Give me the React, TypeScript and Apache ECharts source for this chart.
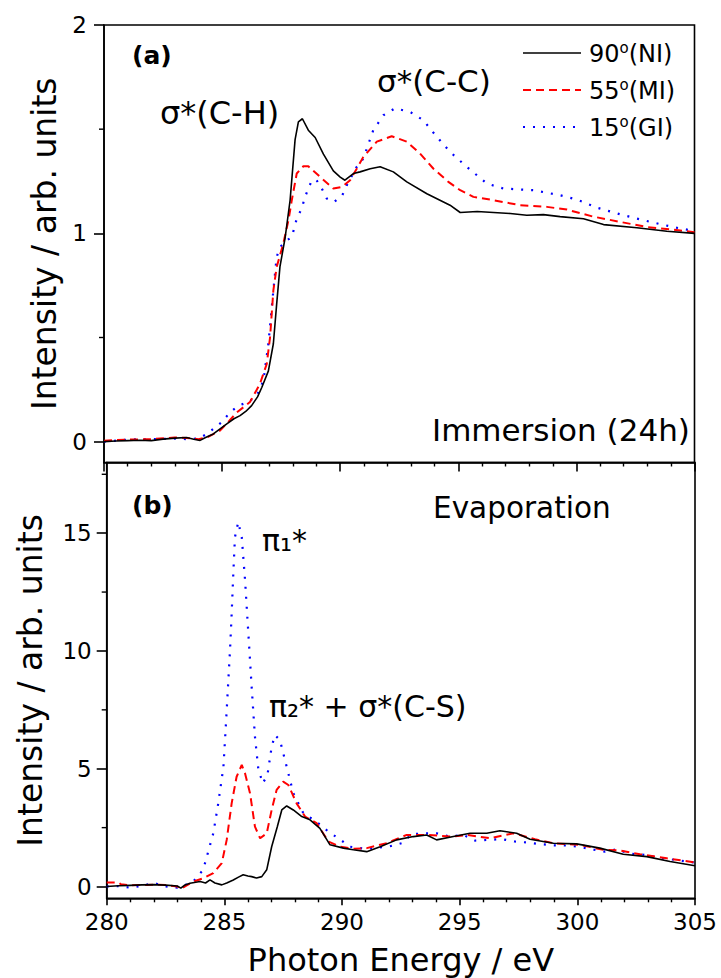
import React, { useEffect, useRef } from "react";
import * as echarts from "echarts";

// ---------- Panel (a): Immersion (24h) ----------
const topE_NI = [280, 280.5, 281, 281.5, 282, 282.5, 283, 283.5, 283.8, 284.07, 284.3, 284.63, 284.9, 285.2, 285.5, 285.76, 286.0, 286.25, 286.5, 286.68, 286.96, 287.17, 287.31, 287.45, 287.67, 287.88, 288.09, 288.23, 288.4, 288.65, 288.94, 289.29, 289.71, 290.0, 290.2, 290.56, 290.84, 291.27, 291.69, 292.25, 292.82, 293.67, 294.65, 295.08, 295.8, 296.49, 297.2, 297.9, 298.6, 299.31, 300.3, 301.15, 302.56, 303.83, 305];
const topI_NI = [0.0, 0.003, 0.005, 0.007, 0.005, 0.012, 0.017, 0.02, 0.012, 0.006, 0.02, 0.037, 0.06, 0.085, 0.11, 0.125, 0.145, 0.173, 0.215, 0.26, 0.34, 0.47, 0.66, 0.84, 0.98, 1.16, 1.45, 1.535, 1.55, 1.495, 1.46, 1.38, 1.3, 1.27, 1.255, 1.287, 1.295, 1.31, 1.32, 1.295, 1.247, 1.19, 1.135, 1.1, 1.105, 1.1, 1.095, 1.087, 1.09, 1.08, 1.07, 1.042, 1.027, 1.01, 1.0];

const topE_MI = [280, 281, 282, 283, 283.5, 284.0, 284.35, 284.91, 285.3, 285.62, 286.18, 286.6, 286.89, 287.03, 287.17, 287.31, 287.59, 287.81, 287.95, 288.16, 288.44, 288.65, 289.15, 289.71, 290.07, 290.42, 290.7, 290.98, 291.55, 292.18, 292.82, 293.38, 293.95, 294.58, 295.08, 295.64, 296.49, 297.62, 298.75, 299.6, 300.72, 301.85, 302.99, 304.1, 305];
const topI_MI = [0.005, 0.01, 0.012, 0.02, 0.018, 0.012, 0.02, 0.053, 0.1, 0.14, 0.19, 0.277, 0.373, 0.5, 0.726, 0.838, 0.95, 1.063, 1.159, 1.287, 1.322, 1.322, 1.271, 1.215, 1.223, 1.255, 1.31, 1.367, 1.44, 1.466, 1.44, 1.383, 1.31, 1.247, 1.207, 1.175, 1.159, 1.135, 1.127, 1.114, 1.08, 1.055, 1.03, 1.018, 1.005];

const topE_GI = [280, 281, 282, 283, 283.5, 284.0, 284.35, 284.98, 285.33, 285.69, 286.11, 286.47, 286.75, 286.96, 287.17, 287.31, 287.45, 287.74, 287.95, 288.16, 288.37, 288.51, 288.8, 289.0, 289.22, 289.43, 289.74, 290.09, 290.28, 290.7, 290.98, 291.4, 291.83, 292.32, 292.96, 293.52, 294.09, 294.65, 295.36, 296.21, 296.91, 298.18, 299.31, 300.02, 300.87, 301.99, 303.13, 304.1, 305];
const topI_GI = [0.0, 0.01, 0.012, 0.015, 0.012, 0.015, 0.037, 0.093, 0.14, 0.173, 0.19, 0.221, 0.293, 0.47, 0.726, 0.886, 0.934, 0.966, 0.982, 1.07, 1.119, 1.175, 1.255, 1.255, 1.215, 1.167, 1.15, 1.183, 1.231, 1.319, 1.359, 1.495, 1.567, 1.6, 1.583, 1.543, 1.463, 1.391, 1.319, 1.239, 1.215, 1.207, 1.183, 1.162, 1.123, 1.087, 1.055, 1.03, 1.011];

// ---------- Panel (b): Evaporation ----------
const botE_NI = [280, 280.5, 281, 281.5, 282, 282.5, 283.0, 283.15, 283.3, 283.54, 283.97, 284.2, 284.39, 284.6, 284.89, 285.1, 285.38, 285.6, 285.8, 286.0, 286.16, 286.37, 286.59, 286.8, 287.01, 287.25, 287.44, 287.65, 287.93, 288.29, 288.64, 289.06, 289.49, 290.06, 290.48, 291.05, 291.62, 292.32, 293.03, 293.6, 294.02, 294.73, 295.44, 296.15, 296.71, 297.42, 297.99, 298.98, 299.97, 300.96, 301.95, 302.95, 303.94, 305];
const botI_NI = [0.0, 0.03, 0.05, 0.07, 0.08, 0.06, 0.02, -0.07, 0.05, 0.14, 0.21, 0.15, 0.28, 0.15, 0.07, 0.15, 0.28, 0.4, 0.5, 0.45, 0.42, 0.36, 0.42, 0.71, 1.69, 2.54, 3.25, 3.42, 3.25, 2.97, 2.83, 2.47, 1.77, 1.63, 1.56, 1.48, 1.69, 1.98, 2.12, 2.19, 1.98, 2.12, 2.26, 2.26, 2.37, 2.26, 2.01, 1.84, 1.81, 1.63, 1.37, 1.27, 1.06, 0.88];

const botE_MI = [280, 280.5, 280.6, 281, 282, 282.5, 283.0, 283.15, 283.4, 283.68, 284.1, 284.53, 284.89, 285.1, 285.31, 285.52, 285.74, 285.88, 286.09, 286.3, 286.52, 286.8, 287.01, 287.22, 287.5, 287.72, 288.07, 288.43, 288.92, 289.42, 289.91, 290.5, 291.05, 291.9, 292.75, 293.6, 294.73, 295.3, 296.29, 297.28, 298.2, 298.98, 300.11, 301.1, 301.8, 302.66, 303.8, 305];
const botI_MI = [0.17, 0.17, 0.1, 0.05, 0.08, 0.06, 0.0, -0.1, 0.05, 0.21, 0.35, 0.57, 0.99, 1.98, 3.53, 4.66, 5.16, 4.8, 3.96, 2.54, 2.05, 2.26, 3.25, 4.1, 4.45, 4.31, 3.53, 2.97, 2.69, 1.91, 1.69, 1.6, 1.63, 1.84, 2.19, 2.19, 2.12, 2.19, 2.05, 2.26, 2.01, 1.84, 1.77, 1.56, 1.53, 1.37, 1.2, 1.02];

const botE_GI = [280, 280.5, 281, 281.5, 282, 282.5, 283, 283.3, 283.68, 284.1, 284.53, 284.74, 284.96, 285.06, 285.17, 285.24, 285.31, 285.38, 285.45, 285.59, 285.74, 285.88, 286.02, 286.16, 286.3, 286.44, 286.63, 286.83, 287.01, 287.15, 287.36, 287.65, 287.93, 288.36, 288.92, 289.42, 289.84, 290.34, 291.0, 291.47, 291.97, 292.54, 292.96, 293.53, 294.02, 294.6, 295.16, 295.65, 296.22, 296.79, 297.35, 297.85, 298.41, 298.98, 299.55, 300.04, 300.61, 301.18, 301.67, 302.23, 302.8, 303.37, 304.43, 305];
const botI_GI = [0.0, 0.02, -0.05, 0.03, 0.15, 0.0, -0.05, 0.05, 0.21, 0.71, 2.26, 3.53, 5.08, 6.78, 8.76, 10.03, 11.58, 13.28, 14.83, 15.47, 14.83, 13.0, 10.74, 8.47, 6.36, 5.02, 4.38, 4.73, 5.93, 6.43, 6.22, 5.08, 3.96, 3.11, 2.75, 2.33, 2.05, 1.69, 1.6, 1.65, 1.69, 1.84, 2.22, 2.26, 2.26, 2.12, 2.19, 1.95, 1.98, 2.01, 1.91, 1.87, 1.8, 1.75, 1.74, 1.69, 1.58, 1.48, 1.58, 1.39, 1.35, 1.24, 1.09, 1.02];

// ---------- Axes / labels ----------
const xMin = 280;
const xMax = 305;
const xStep = 5;
const topYRange = [-0.1, 2];
const topYMajor = [0, 1, 2];
const topYMinor = [0.5, 1.5];
const botYRange = [-0.5, 18];
const botYMajor = [0, 5, 10, 15];
const botYMinor = [2.5, 7.5, 12.5, 17.5];
const legendNames = ["90", "55", "15"];
const legendTags = ["(NI)", "(MI)", "(GI)"];

const FONT = "DejaVu Sans, Verdana, sans-serif";

const zip = (xs: number[], ys: number[]) => xs.map((x, i) => [x, ys[i]]);

const styles = [
  { color: "#000000", width: 1.6, type: "solid" as any },
  { color: "#ff0000", width: 2, type: [8, 5] as any },
  { color: "#0000ff", width: 2.2, type: [2, 8] as any },
];

const GRID_A = { left: 104, top: 25, width: 590.5, height: 437.5 };
const GRID_B = { left: 106.7, top: 462.5, width: 588.3, height: 435.8 };

export default function App() {
  const ref = useRef<HTMLDivElement>(null);
  useEffect(() => {
    if (!ref.current) return;
    const chart = echarts.init(ref.current, undefined, { renderer: "svg" });

    const xAxisBase = (grid: number, showLabels: boolean) => ({
      type: "value",
      gridIndex: grid,
      position: "bottom",
      min: xMin,
      max: xMax,
      interval: xStep,
      axisLine: { show: true, onZero: false, lineStyle: { color: "#000", width: 1.6 } },
      axisTick: { show: true, inside: false, length: grid === 0 ? 9 : 7, lineStyle: { color: "#000", width: 1.6 } },
      minorTick: { show: true, splitNumber: 5, length: 4, lineStyle: { color: "#000", width: 1.4 } },
      splitLine: { show: false },
      axisLabel: {
        show: showLabels,
        fontSize: 23,
        fontFamily: FONT,
        color: "#000",
        margin: 12,
      },
    });

    const yMain = (grid: number, range: number[], major: number[], name: string, gap: number, margin: number) => ({
      type: "value",
      gridIndex: grid,
      position: "left",
      min: range[0],
      max: range[1],
      name,
      nameLocation: "middle",
      nameGap: gap,
      nameTextStyle: { fontSize: 33, fontFamily: FONT, color: "#000" },
      axisLine: { show: true, onZero: false, lineStyle: { color: "#000", width: 1.6 } },
      axisTick: { show: true, inside: false, length: 10, customValues: major, lineStyle: { color: "#000", width: 1.6 } },
      axisLabel: { show: true, customValues: major, fontSize: 23, fontFamily: FONT, color: "#000", margin: margin },
      splitLine: { show: false },
    });

    const topSeries = [zip(topE_NI, topI_NI), zip(topE_MI, topI_MI), zip(topE_GI, topI_GI)];
    const botSeries = [zip(botE_NI, botI_NI), zip(botE_MI, botI_MI), zip(botE_GI, botI_GI)];

    const mkSeries = (data: number[][], k: number, panel: number) => ({
      type: "line",
      name: legendNames[k] + legendTags[k] + (panel === 0 ? " a" : " b"),
      xAxisIndex: panel,
      yAxisIndex: panel,
      data,
      showSymbol: false,
      symbol: "none",
      smooth: false,
      lineStyle: { color: styles[k].color, width: styles[k].width, type: styles[k].type },
      z: 3 - k + 2,
    });

    const series: any[] = [];
    [2, 1, 0].forEach((k) => series.push(mkSeries(topSeries[k], k, 0)));
    [2, 1, 0].forEach((k) => series.push(mkSeries(botSeries[k], k, 1)));

    const txt = (x: number, y: number, text: string, size: number, extra: any = {}) => ({
      type: "text",
      x,
      y,
      z: 50,
      style: {
        text,
        fontSize: size,
        fontFamily: FONT,
        fill: "#000",
        align: "left",
        verticalAlign: "middle",
        ...extra,
      },
    });

    const legendGraphics: any[] = [];
    const rowsY = [53, 90, 127];
    rowsY.forEach((y, k) => {
      legendGraphics.push({
        type: "line",
        z: 50,
        shape: { x1: 523, y1: y, x2: 581, y2: y },
        style: { stroke: styles[k].color, lineWidth: styles[k].width, lineDash: Array.isArray(styles[k].type) ? styles[k].type : null },
      });
      legendGraphics.push({
        type: "text",
        x: 589,
        y: y + 1,
        z: 50,
        style: {
          text: legendNames[k] + "{s|o}" + legendTags[k],
          fontSize: 24,
          fontFamily: FONT,
          fill: "#000",
          align: "left",
          verticalAlign: "middle",
          lineHeight: 28,
          rich: {
            s: { fontSize: 15, fontFamily: FONT, fill: "#000", verticalAlign: "top", lineHeight: 14 },
          },
        },
      });
    });

    // minor y ticks: pixel positions from the chart's own y scale (fallback: grid geometry)
    const minorTicks: any[] = [];
    const addMinor = (gridIdx: number, values: number[], g: any, range: number[], toPx: (v: number) => number | null) => {
      values.forEach((v) => {
        let py = toPx(v);
        if (py === null || !isFinite(py)) {
          py = g.top + (g.height * (range[1] - v)) / (range[1] - range[0]);
        }
        minorTicks.push({
          type: "line",
          z: 60,
          shape: { x1: g.left - 5, y1: py, x2: g.left, y2: py },
          style: { stroke: "#000", lineWidth: 1.4 },
        });
      });
    };

    chart.setOption({
      animation: false,
      backgroundColor: "#fff",
      grid: [
        { ...GRID_A, show: true, borderColor: "#000", borderWidth: 1.6, containLabel: false },
        { ...GRID_B, show: true, borderColor: "#000", borderWidth: 1.6, containLabel: false },
      ],
      xAxis: [
        xAxisBase(0, false),
        {
          ...xAxisBase(1, true),
          name: "Photon Energy / eV",
          nameLocation: "middle",
          nameGap: 46,
          nameTextStyle: { fontSize: 32, fontFamily: FONT, color: "#000" },
        },
      ],
      yAxis: [
        yMain(0, topYRange, topYMajor, "Intensity / arb. units", 41, 17),
        yMain(1, botYRange, botYMajor, "Intensity / arb. units", 60, 15),
      ],
      series,
    });

    const pxFor = (gridIdx: number) => (v: number): number | null => {
      try {
        const p: any = chart.convertToPixel({ gridIndex: gridIdx } as any, [xMin, v]);
        if (Array.isArray(p) && typeof p[1] === "number") return p[1];
      } catch (e) {
        /* ignore */
      }
      return null;
    };
    addMinor(0, topYMinor, GRID_A, topYRange, pxFor(0));
    addMinor(1, botYMinor, GRID_B, botYRange, pxFor(1));

    chart.setOption({
      graphic: [
        txt(132, 55, "(a)", 25, { fontWeight: "bold" }),
        txt(160, 113, "σ*(C-H)", 32),
        txt(377, 81, "σ*(C-C)", 31),
        txt(432, 430, "Immersion (24h)", 31),
        txt(132, 505, "(b)", 25, { fontWeight: "bold" }),
        txt(433, 508, "Evaporation", 29.5),
        txt(262, 540, "π₁*", 30),
        txt(269, 706, "π₂* + σ*(C-S)", 30),
        ...legendGraphics,
        ...minorTicks,
      ],
    });

    return () => chart.dispose();
  }, []);

  return <div ref={ref} style={{ position: "absolute", left: 0, top: 0, width: 721, height: 978 }} />;
}
